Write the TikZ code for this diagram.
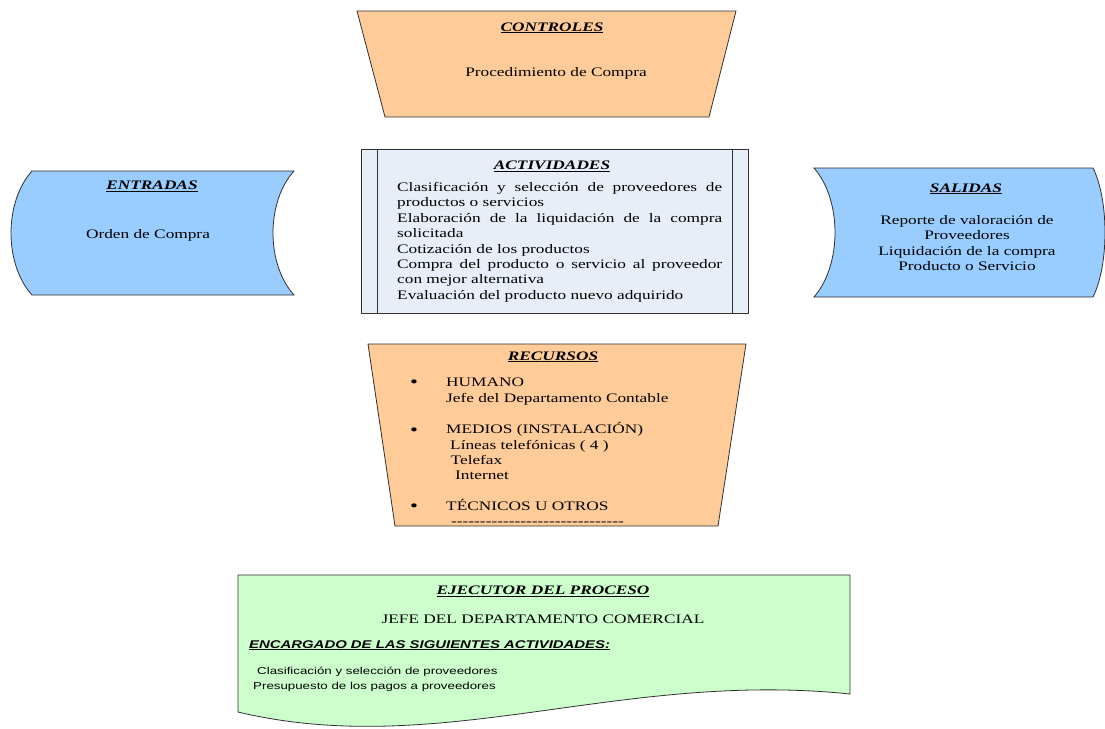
\documentclass[tikz,border=0pt]{standalone}
\usepackage{fontspec}
\setmainfont[FakeStretch=1.33]{Liberation Serif}
\setsansfont[FakeStretch=1.33]{Liberation Sans}
\definecolor{peach}{HTML}{FFCC99}
\definecolor{skyb}{HTML}{99CCFF}
\definecolor{actbg}{HTML}{E8EEF7}
\definecolor{mint}{HTML}{CCFFCC}
\definecolor{edge}{HTML}{303030}
\newcommand\dashrow{-{}-{}-{}-{}-{}-{}-{}-{}-{}-{}-{}-{}-{}-{}-{}-{}-{}-{}-{}-{}-{}-{}-{}-{}-{}-{}-{}-{}-{}-{}}
\begin{document}
\begin{tikzpicture}[x=1pt,y=-1pt,
  shapeline/.style={draw=edge, line width=0.8pt},
  ttl/.style={font=\fontsize{13}{15.4}\selectfont\bfseries\itshape, anchor=base, inner sep=0pt},
  txt/.style={font=\fontsize{13}{15.4}\selectfont, anchor=base, inner sep=0pt},
  txtl/.style={txt, anchor=base west},
  bul/.style={font=\fontsize{17}{18}\selectfont, anchor=base, inner sep=0pt},
  sanst/.style={font=\sffamily\fontsize{10}{15}\selectfont, anchor=base west, inner sep=0pt},
  sanshead/.style={font=\sffamily\fontsize{11.2}{15}\selectfont\bfseries\itshape, anchor=base west, inner sep=0pt}]
\useasboundingbox (0,0) rectangle (1105,728);

% CONTROLES
\path[shapeline, fill=peach] (357,11) -- (736,11) -- (709,117) -- (385,117) -- cycle;
\node[ttl] (ctitle) at (552,31) {\underline{CONTROLES}};
\node[txt] (ctext) at (556,76.5) {Procedimiento de Compra};

% ENTRADAS
\path[shapeline, fill=skyb] (32,171) -- (294,171) .. controls (266,202) and (266,264) .. (294,295) -- (32,295) .. controls (4,264) and (4,202) .. (32,171) -- cycle;
\node[ttl] (etitle) at (152,189.5) {\underline{ENTRADAS}};
\node[txt] (etext) at (148,238) {Orden de Compra};

% ACTIVIDADES
\path[shapeline, fill=actbg] (361,149) rectangle (748,313);
\draw[shapeline] (377,149) -- (377,313) (732,149) -- (732,313);
\node[ttl] (atitle) at (552,169.5) {\underline{ACTIVIDADES}};
\node[txtl] (a1) at (397,191.5) {\makebox[325pt][s]{Clasificación y selección de proveedores de}};
\node[txtl] (a2) at (397,206.9) {productos o servicios};
\node[txtl] (a3) at (397,222.3) {\makebox[325pt][s]{Elaboración de la liquidación de la compra}};
\node[txtl] (a4) at (397,237.7) {solicitada};
\node[txtl] (a5) at (397,253.1) {Cotización de los productos};
\node[txtl] (a6) at (397,268.5) {\makebox[325pt][s]{Compra del producto o servicio al proveedor}};
\node[txtl] (a7) at (397,283.9) {con mejor alternativa};
\node[txtl] (a8) at (397,299.3) {Evaluación del producto nuevo adquirido};

% SALIDAS
\path[shapeline, fill=skyb] (814,168) -- (1093,168) .. controls (1109,200) and (1109,265) .. (1093,297) -- (814,297) .. controls (842,265) and (842,200) .. (814,168) -- cycle;
\node[ttl] (stitle) at (966,192) {\underline{SALIDAS}};
\node[txt] (s1) at (967,224.5) {Reporte de valoración de};
\node[txt] (s2) at (967,239.9) {Proveedores};
\node[txt] (s3) at (967,255.3) {Liquidación de la compra};
\node[txt] (s4) at (967,270.7) {Producto o Servicio};

% RECURSOS
\path[shapeline, fill=peach] (368,344) -- (746,344) -- (718,526) -- (395,526) -- cycle;
\node[ttl] (rtitle) at (553,360) {\underline{RECURSOS}};
\node[bul] (b1) at (414,387.5) {\textbullet};
\node[bul] (b2) at (414,435) {\textbullet};
\node[bul] (b3) at (414,511.5) {\textbullet};
\node[txtl] (r1) at (446,386) {HUMANO};
\node[txtl] (r2) at (446,402) {Jefe del Departamento Contable};
\node[txtl] (r3) at (446,433.5) {MEDIOS (INSTALACIÓN)};
\node[txtl] (r4) at (450,449) {Líneas telefónicas ( 4 )};
\node[txtl] (r5) at (450.5,464) {Telefax};
\node[txtl] (r6) at (455,479) {Internet};
\node[txtl] (r7) at (446,510) {TÉCNICOS U OTROS};
\node[txtl] (r8) at (451,525) {\dashrow};

% EJECUTOR
\path[shapeline, fill=mint] (238,575) -- (850,575) -- (850,694) .. controls (620,670) and (440,760) .. (238,712) -- cycle;
\node[ttl] (xtitle) at (543,594.5) {\underline{EJECUTOR DEL PROCESO}};
\node[txt] (x1) at (543,623.5) {JEFE DEL DEPARTAMENTO COMERCIAL};
\node[sanshead] (x2) at (249,648) {\underline{ENCARGADO DE LAS SIGUIENTES ACTIVIDADES:}};
\node[sanst] (x3) at (257,674.5) {Clasificación y selección de proveedores};
\node[sanst] (x4) at (253,689.5) {Presupuesto de los pagos a proveedores};
\end{tikzpicture}
\end{document}
